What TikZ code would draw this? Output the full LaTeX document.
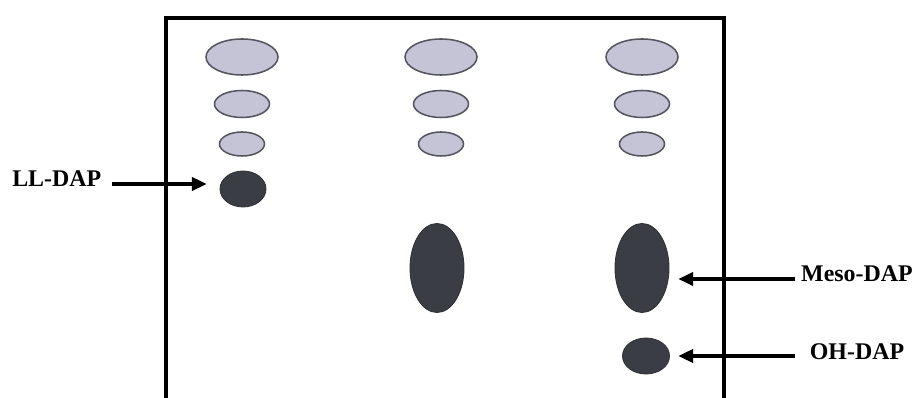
\documentclass[tikz,border=0pt]{standalone}
\usepackage{fontspec}
\setmainfont{Liberation Serif}
\usetikzlibrary{arrows.meta, positioning, shapes.geometric}
\definecolor{spotlight}{RGB}{196,196,214}
\definecolor{spotdark}{RGB}{58,62,68}
\definecolor{rimgray}{RGB}{85,85,95}

\begin{document}
\begin{tikzpicture}[
  x=0.025cm, y=-0.025cm,
  plate/.style={line width=2.8pt, black},
  light/.style={ellipse, draw=rimgray, line width=1.1pt, fill=spotlight, inner sep=0pt},
  dark/.style={ellipse, draw=spotdark!80!black, line width=0.6pt, fill=spotdark, inner sep=0pt},
  big/.style={minimum width=1.8cm, minimum height=0.9cm},
  mid/.style={minimum width=1.375cm, minimum height=0.675cm},
  small/.style={minimum width=1.125cm, minimum height=0.6cm},
  lbl/.style={font=\fontsize{17}{20}\selectfont\bfseries, inner sep=0pt},
  arr/.style={-{Triangle[length=10.5pt, width=9.5pt]}, line width=2.2pt, black}
]
\useasboundingbox (0,0) rectangle (922,398);

% TLC plate
\draw[plate] (166,410) -- (166,18) -- (724,18) -- (724,410);

% reference spots
\node[light, big] (topa) at (242,57) {};
\node[light, mid] (mida) at (242,104) {};
\node[light, small] (lowa) at (242,144) {};
\node[light, big] (topb) at (441,57) {};
\node[light, mid] (midb) at (441,104) {};
\node[light, small] (lowb) at (441,144) {};
\node[light, big] (topc) at (642,57) {};
\node[light, mid] (midc) at (642,104) {};
\node[light, small] (lowc) at (642,144) {};

% DAP spots
\node[dark, minimum width=1.15cm, minimum height=0.9cm] (llspot) at (243,189) {};
\node[dark, minimum width=1.35cm, minimum height=2.225cm] (mesob) at (437,268) {};
\node[dark, minimum width=1.35cm, minimum height=2.225cm] (mesospot) at (642,268) {};
\node[dark, minimum width=1.175cm, minimum height=0.9cm] (ohspot) at (646,356) {};

% labels
\node[lbl, anchor=base west] (lltxt) at (12,187) {LL-DAP};
\node[lbl, anchor=base] (mesotxt) at (857,282) {Meso-DAP};
\node[lbl, anchor=base] (ohtxt) at (857,360) {OH-DAP};

\coordinate (lltail) at (112,184);
\coordinate (mesotail) at (795,279);
\coordinate (ohtail) at (795,356);

\draw[arr, shorten >=9.2pt] (lltail) -- (lltail -| llspot.west);
\draw[arr, shorten >=6.4pt] (mesotail) -- (mesotail -| mesospot.east);
\draw[arr, shorten >=6pt] (ohtail) -- (ohtail -| ohspot.east);
\end{tikzpicture}
\end{document}
